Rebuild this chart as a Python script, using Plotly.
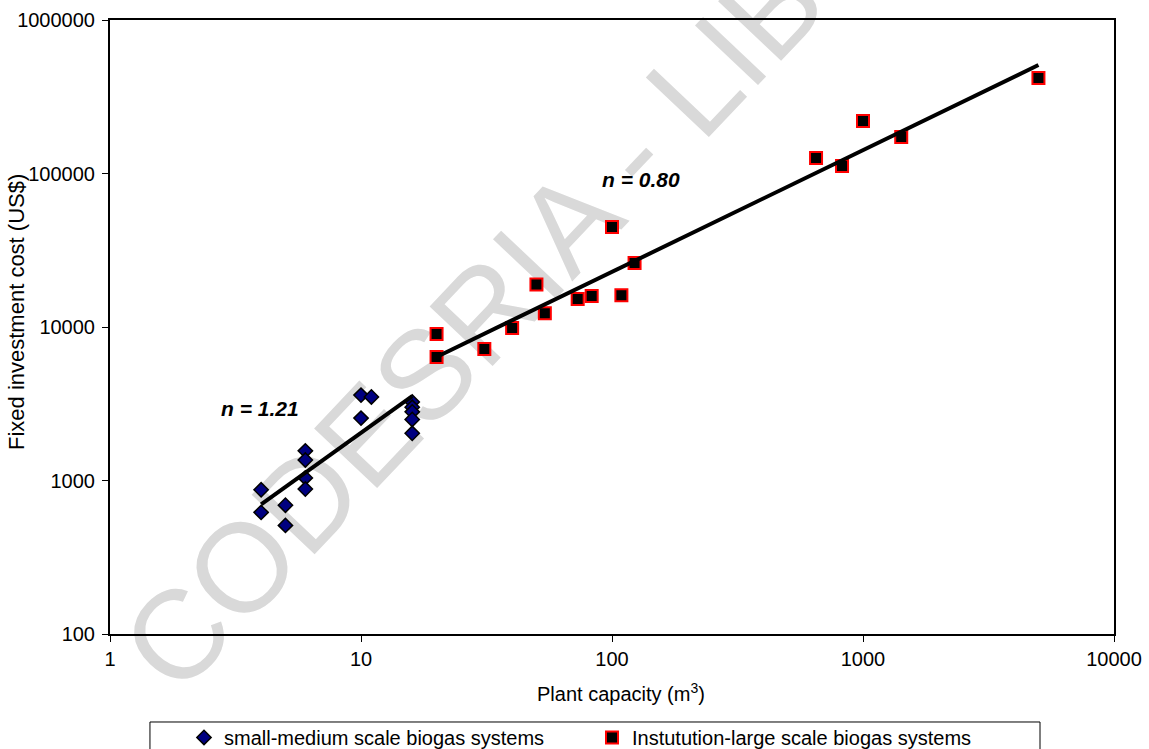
import numpy as np
import plotly.graph_objects as go

# ---- data ----
small_x = [4, 4, 5, 5, 6, 6, 6, 6, 10, 10, 11, 16, 16, 16, 16, 16]
small_y = [870, 620, 690, 510, 1560, 1360, 1040, 880, 3600, 2550, 3500, 3250, 3000, 2800, 2500, 2030]

large_x = [20, 20, 31, 40, 50, 54, 73, 83, 100, 109, 123, 650, 825, 1000, 1420, 5000]
large_y = [9000, 6380, 7190, 9850, 18900, 12300, 15200, 15900, 44800, 16100, 26100,
           126000, 112000, 220000, 173000, 419000]

fit_small_x = [4, 16]
fit_small_y = [700, 3550]
fit_large_x = [20, 5000]
fit_large_y = [6380, 509000]

x_ticks = [1, 10, 100, 1000, 10000]
y_ticks = [100, 1000, 10000, 100000, 1000000]

FONT = "Liberation Sans, Arial, sans-serif"

fig = go.Figure()

fig.add_trace(go.Scatter(
    x=small_x, y=small_y, mode="markers", name="small-medium scale biogas systems",
    marker=dict(symbol="diamond", size=11, color="#000080",
                line=dict(color="black", width=1.5))))
fig.add_trace(go.Scatter(
    x=large_x, y=large_y, mode="markers", name="Instutution-large scale biogas systems",
    marker=dict(symbol="square", size=12, color="black",
                line=dict(color="#ff0000", width=2))))
fig.add_trace(go.Scatter(
    x=fit_small_x, y=fit_small_y, mode="lines", showlegend=False,
    line=dict(color="black", width=4)))
fig.add_trace(go.Scatter(
    x=fit_large_x, y=fit_large_y, mode="lines", showlegend=False,
    line=dict(color="black", width=4)))

# watermark (behind the data)
fig.add_shape(type="line", xref="paper", yref="paper",
              x0=0.4552, y0=0.5228, x1=0.5907, y1=0.7606,
              line=dict(width=0, color="rgba(0,0,0,0)"), layer="below",
              label=dict(text="CODESRIA - LIBRARY", textangle=-46.6,
                         textposition="middle",
                         font=dict(family=FONT, size=126, color="#d9d9d9")))

# legend frame
fig.add_shape(type="rect", xref="paper", yref="paper",
              x0=0.0398, x1=0.9263, y0=-0.1433, y1=-0.25,
              line=dict(color="black", width=1), fillcolor="rgba(0,0,0,0)")

fig.add_annotation(x=np.log10(3.96), y=np.log10(2924), xref="x", yref="y",
                   text="<b><i>n = 1.21</i></b>", showarrow=False,
                   font=dict(family=FONT, size=21, color="black"))
fig.add_annotation(x=np.log10(130), y=np.log10(90800), xref="x", yref="y",
                   text="<b><i>n = 0.80</i></b>", showarrow=False,
                   font=dict(family=FONT, size=21, color="black"))

# axis titles
fig.add_annotation(x=0.509, y=-0.0945, xref="paper", yref="paper",
                   xanchor="center", yanchor="middle",
                   text="Plant capacity (m<sup>3</sup>)", showarrow=False,
                   font=dict(family=FONT, size=20, color="black"))
fig.add_annotation(x=(16 - 110) / 1004, y=0.5244, xref="paper", yref="paper",
                   xanchor="center", yanchor="middle",
                   text="Fixed investment cost (US$)", showarrow=False, textangle=-90,
                   font=dict(family=FONT, size=22, color="black"))

fig.update_xaxes(type="log", range=[0, 4], tickvals=x_ticks,
                 ticktext=[str(v) for v in x_ticks], automargin=False,
                 showgrid=False, zeroline=False, showline=True, mirror=True,
                 linecolor="black", linewidth=2, ticks="outside", ticklen=6,
                 tickcolor="black", tickwidth=1,
                 tickfont=dict(family=FONT, size=20, color="black"))
fig.update_yaxes(type="log", range=[2, 6], tickvals=y_ticks,
                 ticktext=[str(v) for v in y_ticks], automargin=False,
                 showgrid=False, zeroline=False, showline=True, mirror=True,
                 linecolor="black", linewidth=2, ticks="outside", ticklen=6,
                 tickcolor="black", tickwidth=1, ticklabelstandoff=3,
                 tickfont=dict(family=FONT, size=20, color="black"))

fig.update_layout(
    width=1149, height=749,
    margin=dict(l=110, r=35, t=20, b=115, autoexpand=False),
    paper_bgcolor="white", plot_bgcolor="rgba(0,0,0,0)",
    showlegend=True,
    legend=dict(orientation="h", x=(184 - 110) / 1004, xanchor="left",
                yref="container", y=0.0414, yanchor="top",
                borderwidth=0, bgcolor="rgba(0,0,0,0)",
                font=dict(family=FONT, size=20, color="black"),
                entrywidth=363, itemwidth=30),
)

fig.write_html("out.html")
